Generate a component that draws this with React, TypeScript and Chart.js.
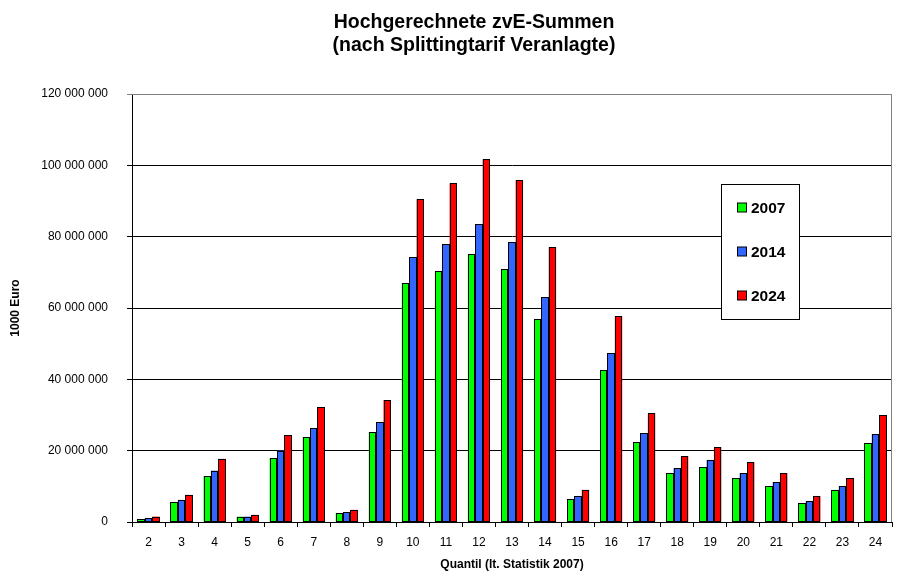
import React, { useEffect, useRef } from 'react';
import { Chart, registerables } from 'chart.js';

Chart.register(...registerables);

const quantile = ['2', '3', '4', '5', '6', '7', '8', '9', '10', '11', '12', '13', '14', '15', '16', '17', '18', '19', '20', '21', '22', '23', '24'];

// 1000 Euro
const values2007 = [840000, 5600000, 12900000, 1500000, 17900000, 23800000, 2500000, 25200000, 67000000, 70300000, 75100000, 70900000, 56900000, 6400000, 42600000, 22400000, 13700000, 15400000, 12300000, 10100000, 5300000, 9000000, 22100000];
const values2014 = [1100000, 6200000, 14400000, 1500000, 20000000, 26300000, 2800000, 28000000, 74300000, 77900000, 83500000, 78500000, 63100000, 7300000, 47400000, 24900000, 15100000, 17400000, 13700000, 11200000, 5900000, 10100000, 24700000];
const values2024 = [1500000, 7600000, 17700000, 2000000, 24400000, 32200000, 3400000, 34200000, 90500000, 95000000, 101700000, 95900000, 77100000, 9000000, 57700000, 30500000, 18500000, 21000000, 16800000, 13700000, 7300000, 12300000, 30000000];

const seriesLabels = ['2007', '2014', '2024'];
const seriesColors = ['#00ff00', '#3366ff', '#ff0000'];

const titleLines = ['Hochgerechnete zvE-Summen', '(nach Splittingtarif Veranlagte)'];

const FONT = '"Liberation Sans", Arial, sans-serif';

const fmt = (v: number) => String(Math.round(v)).replace(/\B(?=(\d{3})+(?!\d))/g, ' ');

// crisp black outline around every bar (Excel look)
const outlinePlugin = {
  id: 'outline',
  afterDatasetsDraw(chart: any) {
    const ctx = chart.ctx;
    ctx.save();
    ctx.strokeStyle = '#000';
    ctx.lineWidth = 1;
    chart.data.datasets.forEach((_ds: any, i: number) => {
      chart.getDatasetMeta(i).data.forEach((bar: any) => {
        const l = Math.round(bar.x - bar.width / 2) + 0.5;
        const r = Math.round(bar.x + bar.width / 2) - 0.5;
        const t = Math.round(bar.y) + 0.5;
        const b = Math.round(bar.base) - 0.5;
        ctx.strokeRect(l, t, r - l, b - t);
      });
    });
    ctx.restore();
  },
};

const decorPlugin = {
  id: 'decor',
  afterDraw(chart: any) {
    const ctx = chart.ctx;
    const area = chart.chartArea;
    ctx.save();

    // plot area border (top / right, grey)
    ctx.strokeStyle = '#808080';
    ctx.lineWidth = 1;
    ctx.beginPath();
    ctx.moveTo(area.left, area.top + 0.5);
    ctx.lineTo(area.right - 0.5, area.top + 0.5);
    ctx.lineTo(area.right - 0.5, area.bottom);
    ctx.stroke();

    // title
    ctx.fillStyle = '#000';
    ctx.font = `bold 19.5px ${FONT}`;
    ctx.textAlign = 'center';
    ctx.textBaseline = 'alphabetic';
    ctx.fillText(titleLines[0], 474, 28);
    ctx.fillText(titleLines[1], 474, 51);

    // legend box
    const bx = 721.5, by = 184.5, bw = 78, bh = 135;
    ctx.fillStyle = '#fff';
    ctx.fillRect(bx, by, bw, bh);
    ctx.strokeStyle = '#000';
    ctx.strokeRect(bx, by, bw, bh);
    const rows = [207.5, 251.5, 295.5];
    ctx.font = `bold 15.5px ${FONT}`;
    ctx.textAlign = 'left';
    ctx.textBaseline = 'middle';
    chart.data.datasets.forEach((ds: any, i: number) => {
      const y = rows[i];
      ctx.fillStyle = ds.backgroundColor;
      ctx.fillRect(737.5, y - 4.5, 9, 9);
      ctx.strokeStyle = '#000';
      ctx.strokeRect(737.5, y - 4.5, 9, 9);
      ctx.fillStyle = '#000';
      ctx.fillText(ds.label, 751, y + 1);
    });
    ctx.restore();
  },
};

const App: React.FC = () => {
  const chartRef = useRef<HTMLCanvasElement | null>(null);

  useEffect(() => {
    const ctx = chartRef.current?.getContext('2d');
    if (!ctx) return;
    const data = [values2007, values2014, values2024];
    const chartInstance = new Chart(ctx, {
      type: 'bar',
      data: {
        labels: quantile,
        datasets: seriesLabels.map((label, i) => ({
          label,
          data: data[i],
          backgroundColor: seriesColors[i],
          borderWidth: 0,
          categoryPercentage: 0.67,
          barPercentage: 1.0,
        })),
      },
      options: {
        responsive: true,
        maintainAspectRatio: false,
        animation: false,
        devicePixelRatio: 1,
        layout: { padding: { top: 94, right: 28, left: 0, bottom: 0 } },
        plugins: {
          legend: { display: false },
          title: { display: false },
          tooltip: { enabled: false },
        },
        scales: {
          x: {
            grid: {
              display: true,
              drawOnChartArea: false,
              drawTicks: true,
              tickLength: 5,
              color: '#000',
              offset: true,
            },
            border: { color: '#000', width: 1 },
            ticks: {
              color: '#000',
              font: { family: FONT, size: 12 },
              padding: 8,
              maxRotation: 0,
              autoSkip: false,
            },
            title: {
              display: true,
              text: 'Quantil (lt. Statistik 2007)',
              color: '#000',
              font: { family: FONT, size: 12, weight: 'bold' },
              padding: { top: 0, bottom: 9 },
            },
            afterFit: (scale: any) => {
              scale.height = 59;
            },
          },
          y: {
            min: 0,
            max: 120000000,
            grid: {
              color: (c: any) => (c.tick && c.tick.value === 120000000 ? '#808080' : '#000'),
              tickLength: 5,
              lineWidth: 1,
            },
            border: { color: '#000', width: 1 },
            ticks: {
              stepSize: 20000000,
              color: '#000',
              font: { family: FONT, size: 12 },
              padding: 19,
              callback: (v: any) => fmt(Number(v)),
            },
            title: {
              display: true,
              text: '1000 Euro',
              color: '#000',
              font: { family: FONT, size: 12, weight: 'bold' },
              padding: { top: 8, bottom: 0 },
            },
            afterFit: (scale: any) => {
              scale.width = 132;
            },
          },
        },
      },
      plugins: [outlinePlugin, decorPlugin],
    });

    return () => {
      chartInstance.destroy();
    };
  }, []);

  return (
    <div style={{ position: 'fixed', left: 0, top: 0, width: 920, height: 581, background: '#fff' }}>
      <canvas ref={chartRef} />
    </div>
  );
};

export default App;
